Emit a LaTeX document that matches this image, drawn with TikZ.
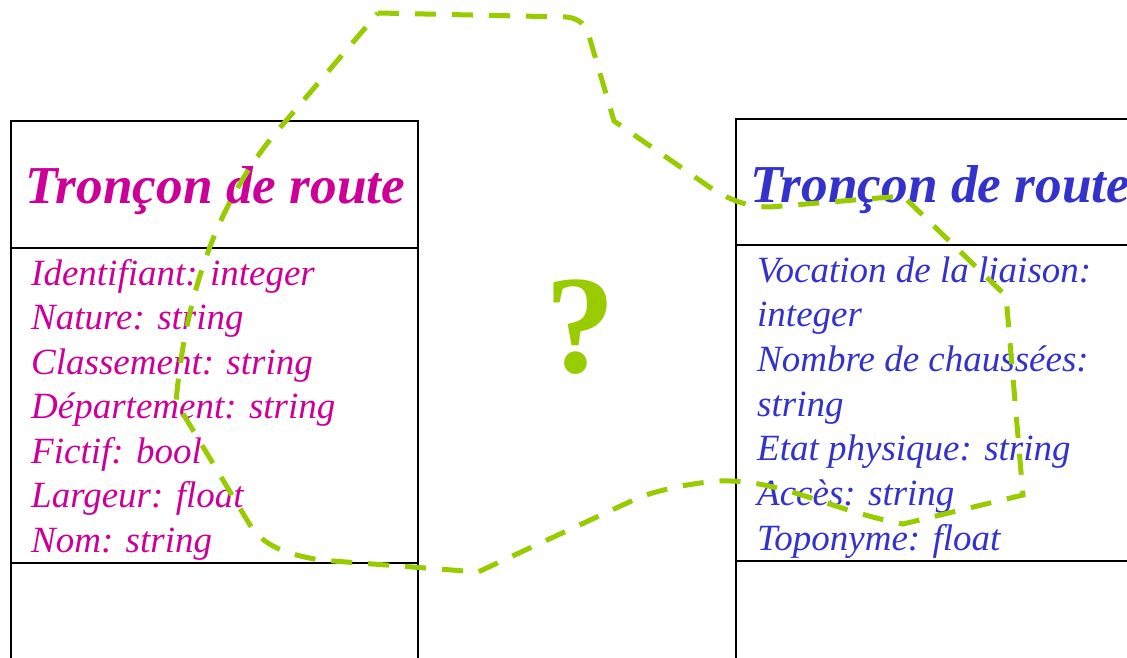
\documentclass[tikz,border=0pt]{standalone}
\usepackage{fontspec}
\setmainfont{Liberation Serif}
\definecolor{classmag}{RGB}{204,0,153}
\definecolor{classblue}{RGB}{51,51,204}
\definecolor{limegreen}{RGB}{153,204,0}
\begin{document}
\begin{tikzpicture}[x=1pt,y=-1pt,
  boxline/.style={draw=black,line width=1.8pt},
  titletext/.style={anchor=base west,inner sep=0pt,font=\fontsize{53.3}{58}\selectfont\bfseries\itshape},
  attrtext/.style={anchor=base west,inner sep=0pt,font=\fontsize{37}{44}\selectfont\itshape},
  outline/.style={draw=limegreen,line width=5pt,dash pattern=on 21pt off 16pt}]
\useasboundingbox (0,0) rectangle (1127,658);
\clip (0,0) rectangle (1127,658);
\fill[white] (0,0) rectangle (1127,658);

% left class box
\draw[boxline] (11,700) -- (11,121) -- (418,121) -- (418,700);
\draw[boxline] (11,248) -- (418,248);
\draw[boxline] (11,563) -- (418,563);
% right class box
\draw[boxline] (736,700) -- (736,119) -- (1140,119);
\draw[boxline] (736,245) -- (1140,245);
\draw[boxline] (736,561) -- (1140,561);

% titles
\node[titletext,text=classmag] (ltitle) at (25,203) {Tronçon de route};
\node[titletext,text=classblue] (rtitle) at (750,202) {Tronçon de route};

% attributes of the left class
\foreach \t [count=\i] in {Identifiant: integer,Nature: string,Classement: string,Département: string,Fictif: bool,Largeur: float,Nom: string}
  \node[attrtext,text=classmag] (la\i) at (31,{285+44.5*(\i-1)}) {\t};

% attributes of the right class
\foreach \t [count=\i] in {Vocation de la liaison:,integer,Nombre de chaussées:,string,Etat physique: string,Accès: string,Toponyme: float}
  \node[attrtext,text=classblue] (ra\i) at (757,{282+44.7*(\i-1)}) {\t};

% question mark
\node[inner sep=0pt,text=limegreen,font=\fontsize{140}{140}\selectfont\bfseries] (q) at (580,327) {?};

% dashed outline
\draw[outline]
  (378,13) -- (566,17) .. controls (579,18) and (586,25) .. (589,36)
  -- (614,121) -- (705,184) .. controls (725,198) and (745,207) .. (770,207)
  -- (903,196) -- (1006,296) -- (1023,495) -- (903,524)
  .. controls (830,510) and (780,479) .. (720,481)
  .. controls (690,483) and (660,490) .. (640,497)
  -- (478,572) -- (320,560) .. controls (285,554) and (264,546) .. (250,525)
  -- (176,402) .. controls (185,300) and (215,200) .. (285,122) -- cycle;
\end{tikzpicture}
\end{document}
